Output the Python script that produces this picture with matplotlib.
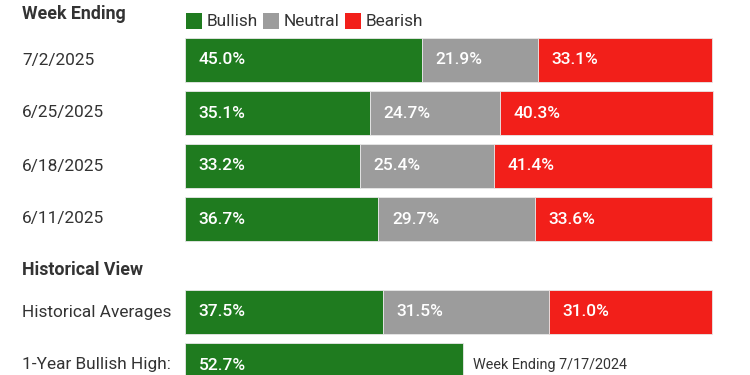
import matplotlib
matplotlib.use("Agg")
import matplotlib.pyplot as plt

plt.rcParams['font.family'] = ['Roboto', 'DejaVu Sans']

weeks = ["7/2/2025", "6/25/2025", "6/18/2025", "6/11/2025"]
bullish = [45.0, 35.1, 33.2, 36.7]
neutral = [21.9, 24.7, 25.4, 29.7]
bearish = [33.1, 40.3, 41.4, 33.6]

hist_label = "Historical Averages"
hist_bull, hist_neut, hist_bear = 37.5, 31.5, 31.0
high_label = "1-Year Bullish High:"
high_value = 52.7
high_note = "Week Ending 7/17/2024"

GREEN = "#1f7b1f"
GRAY = "#9c9c9c"
RED = "#f21f1a"
TXT = "#333333"

W, H = 750, 375
fig = plt.figure(figsize=(7.5, 3.75), dpi=100)
fig.patch.set_facecolor("white")
x0, x1 = 185, 712
ax = fig.add_axes([x0 / W, 0, (x1 - x0) / W, 1])
ax.set_xlim(0, 100)
ax.set_ylim(H, 0)
ax.axis("off")

bh = 44
week_y = [60, 113, 166, 219]
hist_y = 312
high_y = 365

def px_to_x(px):
    return (px - x0) / (x1 - x0) * 100

def seg(y, left, val, color):
    ax.barh(y, val, left=left, height=bh, color=color, edgecolor="#e8e8e8",
            linewidth=0.6, clip_on=False)
    ax.text(left + 2.6, y, f"{val:.1f}%", color="white", fontsize=12.5,
            va="center", ha="left", fontweight="medium", clip_on=False)

for y, lab, b, n, r in zip(week_y, weeks, bullish, neutral, bearish):
    seg(y, 0, b, GREEN)
    seg(y, b, n, GRAY)
    seg(y, b + n, r, RED)
    ax.text(px_to_x(22), y, lab, color=TXT, fontsize=12.4, va="center", ha="left", clip_on=False)

seg(hist_y, 0, hist_bull, GREEN)
seg(hist_y, hist_bull, hist_neut, GRAY)
seg(hist_y, hist_bull + hist_neut, hist_bear, RED)
ax.text(px_to_x(22), hist_y, hist_label, color=TXT, fontsize=12.4, va="center", ha="left", clip_on=False)

seg(high_y, 0, high_value, GREEN)
ax.text(px_to_x(22), high_y, high_label, color=TXT, fontsize=12.4, va="center", ha="left", clip_on=False)
ax.text(high_value + 1.9, high_y, high_note, color=TXT, fontsize=10.4, va="center", ha="left", clip_on=False)

ax.text(px_to_x(22), 14, "Week Ending", color=TXT, fontsize=12.8, fontweight="bold",
        va="center", ha="left", clip_on=False)
ax.text(px_to_x(22), 270, "Historical View", color=TXT, fontsize=12.8, fontweight="bold",
        va="center", ha="left", clip_on=False)

# legend
legend_items = [("Bullish", GREEN, 186), ("Neutral", GRAY, 263), ("Bearish", RED, 345)]
for name, col, px in legend_items:
    ax.barh(21, px_to_x(px + 16) - px_to_x(px), left=px_to_x(px), height=16,
            color=col, clip_on=False)
    ax.text(px_to_x(px + 21), 21, name, color=TXT, fontsize=12.4, va="center", ha="left", clip_on=False)

fig.savefig("out.png", dpi=100, facecolor="white")
